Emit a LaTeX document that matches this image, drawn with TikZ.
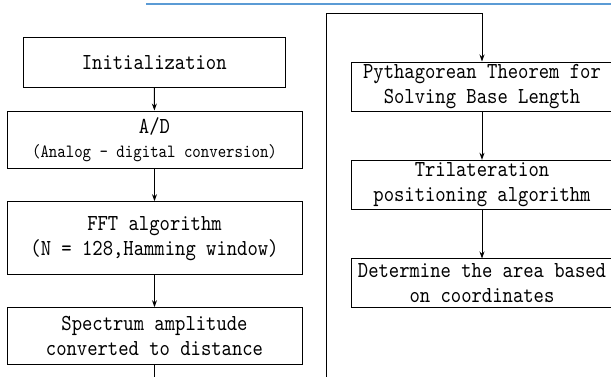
\documentclass[tikz,border=0pt]{standalone}
\usepackage{fontspec}
\setmainfont{lmmono10-regular.otf}[FakeStretch=0.86]
\usetikzlibrary{arrows.meta}
\definecolor{blueline}{RGB}{91,155,213}
\begin{document}
\begin{tikzpicture}[x=1pt,y=-1pt,
  box/.style={draw, line width=1pt, inner sep=0pt, align=center,
    font=\fontsize{22.9}{25}\selectfont},
  arr/.style={line width=0.9pt,-{Stealth[length=7pt,width=5pt]}},
  ln/.style={line width=0.9pt}]
\useasboundingbox (0,0) rectangle (611,376);
\draw[color=blueline, line width=2pt] (146,4) -- (611,4);
\node[box, minimum width=262.5pt, minimum height=49.5pt] (init) at (154.25,62.25) {Initialization};
\node[box, minimum width=295pt, minimum height=57pt] (ad) at (154.5,139.5)
  {A/D\\[-1pt]{\fontsize{18.7}{24}\selectfont (Analog - digital conversion)}};
\node[box, minimum width=295pt, minimum height=73.3pt] (fft) at (154.5,238.3)
  {FFT algorithm\\(N = 128,Hamming window)};
\node[box, minimum width=295pt, minimum height=57.3pt] (spec) at (154.5,336.3)
  {Spectrum amplitude\\converted to distance};
\node[box, minimum width=262pt, minimum height=49pt] (pyth) at (482,86.5)
  {Pythagorean Theorem for\\Solving Base Length};
\node[box, minimum width=262pt, minimum height=49pt] (tri) at (482,184.8)
  {Trilateration\\positioning algorithm};
\node[box, minimum width=262pt, minimum height=48.7pt] (det) at (482,283.3)
  {Determine the area based\\on coordinates};
\coordinate (lowL) at (154.5,380);
\coordinate (lowR) at (326.7,380);
\coordinate (topR) at (326.7,13.3);
\draw[arr] (init) -- (ad);
\draw[arr] (ad) -- (fft);
\draw[arr] (fft) -- (spec);
\draw[ln] (spec) -- (lowL);
\draw[arr] (lowR) -- (topR) -| (pyth);
\draw[arr] (pyth) -- (tri);
\draw[arr] (tri) -- (det);
\end{tikzpicture}
\end{document}
